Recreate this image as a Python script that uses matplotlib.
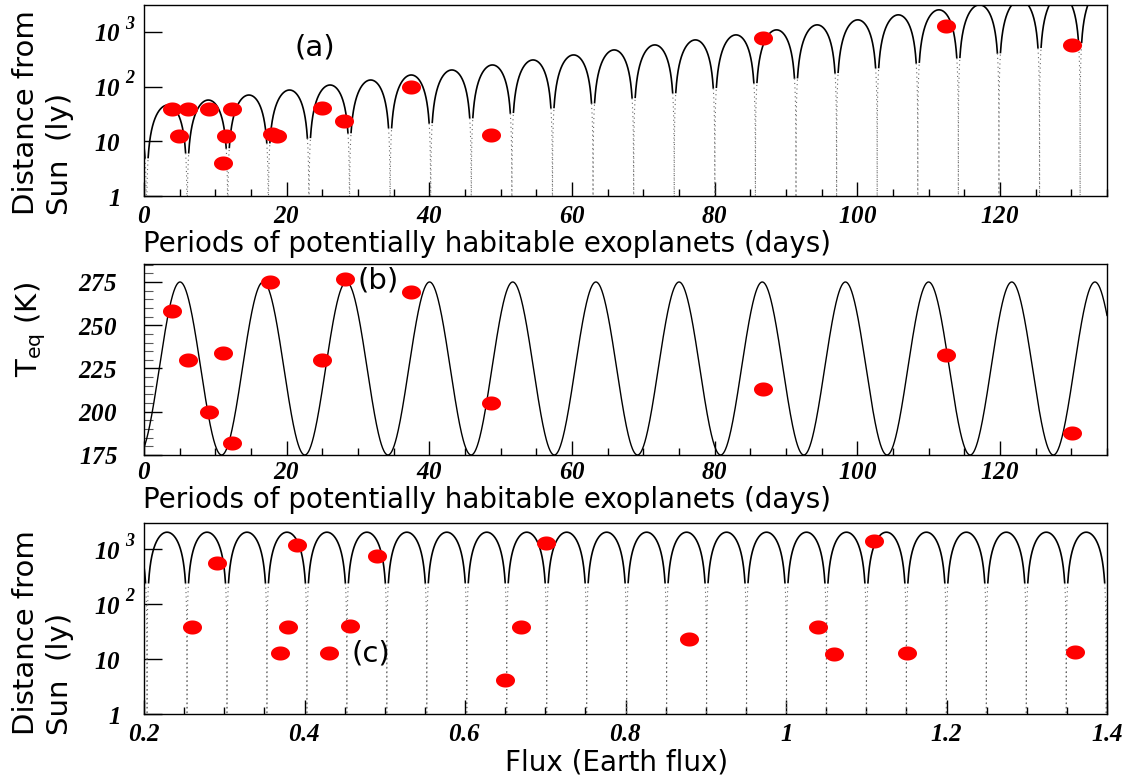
import numpy as np
import matplotlib
matplotlib.use("Agg")
import matplotlib.pyplot as plt
from matplotlib.path import Path
from matplotlib.ticker import FixedLocator, FixedFormatter, MultipleLocator, LogLocator, NullFormatter

plt.rcParams['font.family'] = 'DejaVu Sans'
plt.rcParams['mathtext.fontset'] = 'custom'
plt.rcParams['mathtext.rm'] = 'Liberation Serif:bold:italic'
plt.rcParams['mathtext.it'] = 'Liberation Serif:bold:italic'
plt.rcParams['mathtext.sf'] = 'DejaVu Sans'

# --- data ---
# (a) distance vs orbital period
period_a = [3.93, 6.17, 9.12, 12.35, 4.91, 11.5, 11.08, 17.96, 18.66, 24.97, 28.06, 37.46, 48.68, 86.83, 112.4, 130.05]
dist_a = [39, 39, 39, 39, 12.5, 12.5, 4.0, 13.6, 12.3, 40, 23.5, 98, 13, 775, 1280, 575]

# (b) equilibrium temperature vs orbital period
period_b = [3.93, 6.17, 11.08, 9.12, 12.35, 17.68, 28.2, 24.97, 37.46, 48.68, 86.83, 112.4, 130.05]
teq_b = [258, 230, 234, 200, 182, 275, 277, 230, 269, 205, 213, 233, 188]

# (c) distance vs flux
flux_c = [0.260, 0.291, 0.391, 0.380, 0.370, 0.430, 0.457, 0.490, 0.701, 0.670,
          0.650, 0.879, 1.110, 1.040, 1.060, 1.151, 1.360]
dist_c = [38, 560, 1180, 38, 12.9, 12.9, 40, 745, 1290, 38, 4.2, 23, 1400, 38, 12.3, 12.9, 13.4]

# tick labels
period_ticks = [0, 20, 40, 60, 80, 100, 120]
teq_ticks = [175, 200, 225, 250, 275]
flux_ticks = [0.2, 0.4, 0.6, 0.8, 1.0, 1.2, 1.4]
flux_tick_labels = ['0.2', '0.4', '0.6', '0.8', '1', '1.2', '1.4']
log_ticks = [1, 10, 100, 1000]
log_bases = ['1', '10', '10', '10']
log_exponents = {100: '2', 1000: '3'}

# model curves (parameters)
arch_period_a = 5.69     # days
arch_zero_a = 0.36
log_amp0_a = 1.61        # log10 of arch height at 0 days
log_amp_slope_a = 0.0161 # per day

teq_mean = 225.0
teq_amp = 50.0
teq_period = 11.66
teq_peak = 5.05

arch_period_c = 0.0498
arch_zero_c = 0.2038
arch_amp_c = 2040.0

# --- figure ---
W, H = 1136, 778
fig = plt.figure(figsize=(W / 100, H / 100), dpi=100)

def px_axes(left, top, right, bottom):
    return fig.add_axes([left / W, 1 - bottom / H, (right - left) / W, (bottom - top) / H])

ax_a = px_axes(144, 5, 1107, 196)
ax_b = px_axes(144, 264, 1107, 455)
ax_c = px_axes(144, 523, 1107, 714)

t = np.linspace(0, 2 * np.pi, 80)
ellipse = Path(np.column_stack([np.cos(t), 0.74 * np.sin(t)]), closed=True)
dot_kw = dict(ls='none', marker=ellipse, ms=13.7, color='red', mec='none', zorder=3)


def math_labels(vals):
    return ['$%s$' % v for v in vals]


def style(ax, xpad):
    for s in ax.spines.values():
        s.set_linewidth(1.0)
    ax.tick_params(which='both', direction='in', top=False, right=False, labelsize=18)
    ax.tick_params(axis='x', which='major', length=10, width=1, pad=xpad)
    ax.tick_params(axis='x', which='minor', length=5, width=1)
    ax.tick_params(axis='y', which='major', length=13, width=1, pad=17)
    ax.tick_params(axis='y', which='minor', length=6.5, width=0.8, color='0.35')


def log_axis(ax, top):
    ax.set_yscale('log', nonpositive='mask')
    ax.set_ylim(1, top)
    ax.yaxis.set_major_locator(FixedLocator(log_ticks))
    ax.yaxis.set_major_formatter(FixedFormatter(math_labels(log_bases)))
    ax.yaxis.set_minor_locator(LogLocator(base=10, subs=np.arange(2, 10)))
    ax.yaxis.set_minor_formatter(NullFormatter())
    # exponents hang to the right of the "10", as in the original
    for val, ex in log_exponents.items():
        ax.annotate('$%s$' % ex, xy=(0, val), xycoords=('axes fraction', 'data'),
                    xytext=(-14, 6), textcoords='offset points',
                    fontsize=13, ha='left', va='center', annotation_clip=False)


def arch_grid(lo, hi, zero, period, n):
    # uniform grid plus extra samples close to every zero of the arches
    zeros = zero + period * np.arange(-1, int((hi - lo) / period) + 3)
    offs = np.geomspace(1e-6, 0.3, 70) * period
    extra = np.concatenate([zeros[:, None] - offs, zeros[:, None] + offs]).ravel()
    x = np.concatenate([np.linspace(lo, hi, n), extra])
    x = np.sort(x[(x >= lo) & (x <= hi)])
    return x


def arch_curve(ax, x, amp, phase):
    # solid near the top of each arch, dotted where it drops towards zero
    s = np.abs(np.sin(phase))
    y = amp * s
    steep = s < 0.12
    ax.plot(x, np.where(steep, np.nan, y), color='black', lw=1.2, zorder=2)
    ax.plot(x, np.where(steep, y, np.nan), color='0.4', lw=0.8, ls=(0, (1, 3)), zorder=2)


# (a)
ax_a.set_xlim(0, 135)
log_axis(ax_a, 3100)
xa = arch_grid(0, 135, arch_zero_a, arch_period_a, 30000)
arch_curve(ax_a, xa, 10 ** (log_amp0_a + log_amp_slope_a * xa),
           np.pi * (xa - arch_zero_a) / arch_period_a)
ax_a.plot(period_a, dist_a, **dot_kw)
ax_a.xaxis.set_major_locator(FixedLocator(period_ticks))
ax_a.xaxis.set_major_formatter(FixedFormatter(math_labels(period_ticks)))
ax_a.xaxis.set_minor_locator(MultipleLocator(5))
style(ax_a, 6)
ax_a.text(24.0, 528, '(a)', fontsize=21, ha='center', va='center')

# (b)
xb = np.linspace(0, 135, 3000)
yb = teq_mean + teq_amp * np.cos(2 * np.pi * (xb - teq_peak) / teq_period)
ax_b.plot(xb, yb, color='black', lw=1.0, zorder=2)
ax_b.plot(period_b, teq_b, **dot_kw)
ax_b.set_xlim(0, 135)
ax_b.set_ylim(175, 285.4)
ax_b.xaxis.set_major_locator(FixedLocator(period_ticks))
ax_b.xaxis.set_major_formatter(FixedFormatter(math_labels(period_ticks)))
ax_b.xaxis.set_minor_locator(MultipleLocator(5))
ax_b.yaxis.set_major_locator(FixedLocator(teq_ticks))
ax_b.yaxis.set_major_formatter(FixedFormatter(math_labels(teq_ticks)))
ax_b.yaxis.set_minor_locator(MultipleLocator(5))
style(ax_b, 3.5)
ax_b.tick_params(axis='y', which='major', pad=19)
ax_b.text(32.8, 276, '(b)', fontsize=21, ha='center', va='center')

# (c)
ax_c.set_xlim(0.2, 1.4)
log_axis(ax_c, 3000)
xc = arch_grid(0.2, 1.4, arch_zero_c, arch_period_c, 30000)
arch_curve(ax_c, xc, arch_amp_c, np.pi * (xc - arch_zero_c) / arch_period_c)
ax_c.plot(flux_c, dist_c, **dot_kw)
ax_c.xaxis.set_major_locator(FixedLocator(flux_ticks))
ax_c.xaxis.set_major_formatter(FixedFormatter(math_labels(flux_tick_labels)))
ax_c.xaxis.set_minor_locator(MultipleLocator(0.05))
style(ax_c, 6)
ax_c.text(0.483, 12.8, '(c)', fontsize=21, ha='center', va='center')

# axis titles
lab_kw = dict(fontsize=20, ha='center', va='baseline')
fig.text(487 / W, 1 - 252 / H, 'Periods of potentially habitable exoplanets (days)', **lab_kw)
fig.text(487 / W, 1 - 508 / H, 'Periods of potentially habitable exoplanets (days)', **lab_kw)
fig.text(617 / W, 1 - 770 / H, 'Flux (Earth flux)', **lab_kw)

ylab_kw = dict(fontsize=21, rotation=90, ha='left', va='bottom', multialignment='left', linespacing=1.25)
fig.text(12 / W, 1 - 215 / H, 'Distance from\nSun  (ly)', **ylab_kw)
fig.text(12 / W, 1 - 735 / H, 'Distance from\nSun  (ly)', **ylab_kw)
fig.text(14 / W, 1 - 377 / H, r'T$_{\mathsf{eq}}$ (K)', fontsize=21, rotation=90, ha='left', va='bottom')

fig.savefig('out.png', dpi=100)
